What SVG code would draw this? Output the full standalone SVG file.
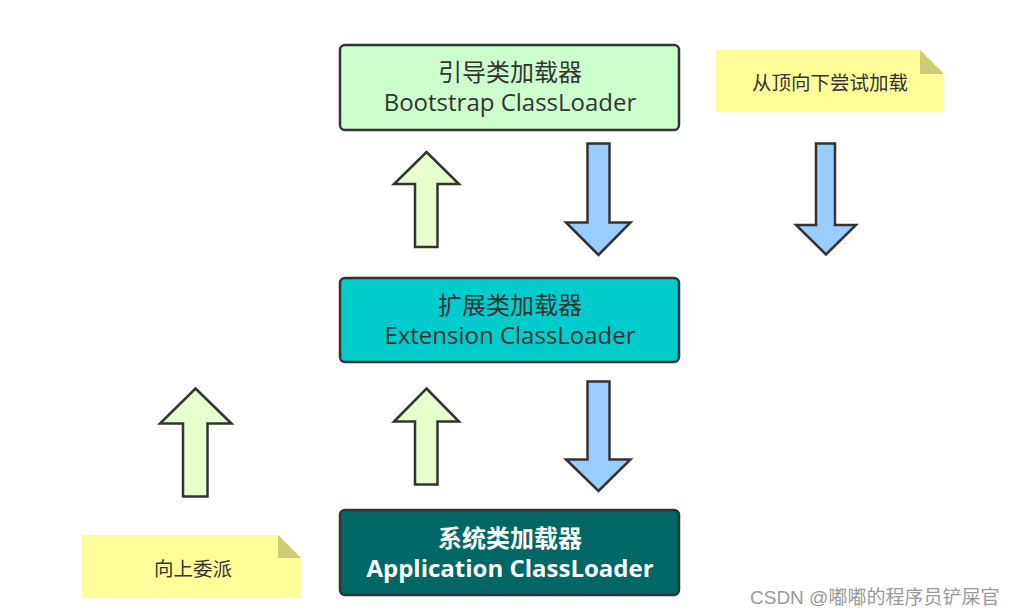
<svg xmlns="http://www.w3.org/2000/svg" width="1016" height="616" viewBox="0 0 1016 616">
<style>
.box{stroke:#333;stroke-width:2.5}
.t{font-family:"Open Sans","Noto Sans CJK SC",sans-serif;font-size:24px;fill:#333;text-anchor:middle}
.tb{font-family:"Open Sans","Noto Sans CJK SC",sans-serif;font-size:24px;font-weight:bold;fill:#fff;text-anchor:middle}
.up{fill:#e6ffcc;stroke:#333;stroke-width:2.5;stroke-linejoin:miter}
.down{fill:#99ccff;stroke:#333;stroke-width:2.5;stroke-linejoin:miter}
.note{fill:#ffff99}
.fold{fill:#cccc77}
.nt{font-family:"Noto Sans CJK SC",sans-serif;font-size:19.5px;fill:#333;text-anchor:middle}
.wm{font-family:"Liberation Sans","Noto Sans CJK SC",sans-serif;font-size:19px;fill:#999}
</style>
<rect width="1016" height="616" fill="#fff"/>
<g id="bootstrap">
<rect class="box" x="340" y="45" width="339" height="85" rx="5" fill="#ccffcc"/>
<text class="t" x="510" y="81">引导类加载器</text>
<text class="t" x="510" y="111">Bootstrap ClassLoader</text>
</g>
<g id="extension">
<rect class="box" x="340" y="278" width="339" height="84" rx="5" fill="#00cccc"/>
<text class="t" x="510" y="314">扩展类加载器</text>
<text class="t" x="510" y="344">Extension ClassLoader</text>
</g>
<g id="application">
<rect class="box" x="340" y="510" width="339" height="85" rx="5" fill="#006666"/>
<text class="tb" x="510" y="547">系统类加载器</text>
<text class="tb" x="510" y="577">Application ClassLoader</text>
</g>
<g id="note-top">
<polygon class="note" points="716,50 920,50 944,74 944,112 716,112"/>
<polygon class="fold" points="920,50 944,74 920,74"/>
<text class="nt" x="830" y="90">从顶向下尝试加载</text>
</g>
<g id="note-bottom">
<polygon class="note" points="82,535 278,535 301,558 301,598 82,598"/>
<polygon class="fold" points="278,535 301,558 278,558"/>
<text class="nt" x="193" y="576">向上委派</text>
</g>
<g id="connectors">
<polygon class="up" points="426.5,152 459,184 437.5,184 437.5,247 415,247 415,184 394,184"/>
<polygon class="down" points="587.5,143.5 609.5,143.5 609.5,222.5 630.5,222.5 598.5,255 566,222.5 587.5,222.5"/>
<polygon class="down" points="816,143.5 835,143.5 835,225 856,225 826,254.5 796,225 816,225"/>
<polygon class="up" points="426.5,388.5 459,421.5 437.5,421.5 437.5,484.5 415,484.5 415,421.5 394,421.5"/>
<polygon class="down" points="587.5,381.5 609.5,381.5 609.5,459.5 630.5,459.5 598.5,491 566,459.5 587.5,459.5"/>
<polygon class="up" points="195.5,388.5 231.5,423.5 207.5,423.5 207.5,496.5 183,496.5 183,423.5 160,423.5"/>
</g>
<text class="wm" x="750" y="604">CSDN @嘟嘟的程序员铲屎官</text>
</svg>
